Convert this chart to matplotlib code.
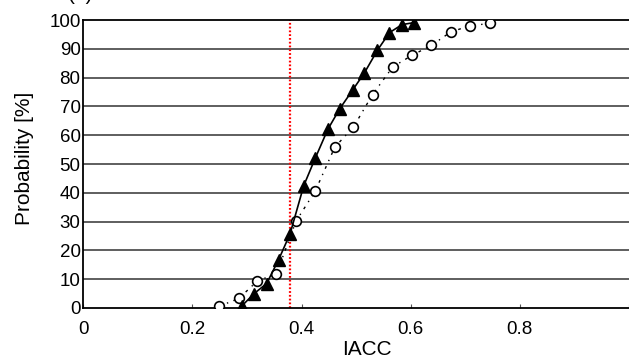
import matplotlib
matplotlib.use("Agg")
import matplotlib.pyplot as plt

plt.rcParams['font.family'] = ['Liberation Sans', 'DejaVu Sans']

# Data
tri_x = [0.291, 0.313, 0.336, 0.358, 0.379, 0.404, 0.425, 0.448, 0.470,
         0.494, 0.515, 0.539, 0.561, 0.584, 0.606]
tri_y = [0.8, 5.0, 8.5, 16.8, 25.8, 42.5, 52.0, 62.0, 69.2,
         75.8, 81.6, 89.5, 95.6, 98.4, 99.1]
circ_x = [0.249, 0.285, 0.319, 0.354, 0.390, 0.425, 0.461, 0.495, 0.530,
          0.567, 0.602, 0.638, 0.673, 0.708, 0.745]
circ_y = [0.6, 3.3, 9.4, 11.9, 30.2, 40.6, 55.9, 62.8, 74.1,
          83.7, 87.7, 91.2, 95.8, 98.0, 98.8]
threshold = 0.378
x_ticks = [0, 0.2, 0.4, 0.6, 0.8, 1.0]
x_ticklabels = ['0', '0.2', '0.4', '0.6', '0.8', '']
y_ticks = list(range(0, 101, 10))

W, H = 629, 362
fig = plt.figure(figsize=(W / 100, H / 100), dpi=100)
ax = fig.add_axes([83.3 / W, 1 - 308 / H, (W - 83.3) / W, 288 / H])

ax.set_xlim(0, 1.0)
ax.set_ylim(0, 100)

for y in y_ticks[1:-1]:
    ax.axhline(y, color='#333333', lw=1.1, zorder=1)

ax.axvline(threshold, color='#ff0000', lw=1.6, ls=(0, (0.8, 0.9)), zorder=2)

ax.plot(circ_x, circ_y, color='black', lw=1.0, ls=(0, (2, 4, 1, 4)),
        marker='o', ms=7, mfc='white', mec='black', mew=1.2, zorder=3)
ax.plot(tri_x, tri_y, color='black', lw=1.2, ls='-',
        marker='^', ms=8, mfc='black', mec='black', zorder=4)

ax.set_xticks(x_ticks)
ax.set_xticklabels(x_ticklabels)
ax.set_yticks(y_ticks)
ax.tick_params(axis='x', direction='in', length=3, width=0.8, color='#555555',
               labelsize=13.5, pad=9)
ax.tick_params(axis='y', length=0, labelsize=13.5, pad=2)

for s in ['left', 'bottom', 'top']:
    ax.spines[s].set_color('black')
    ax.spines[s].set_linewidth(1.3)
ax.spines['right'].set_visible(False)

ax.set_ylabel('Probability [%]', fontsize=15)
ax.yaxis.set_label_coords(-0.091, 0.52)
ax.set_xlabel('IACC', fontsize=15)
ax.xaxis.set_label_coords(0.52, -0.11)

fig.text(68 / W, 1.0, '(a)', fontsize=15, va='baseline', ha='left')

fig.savefig('out.png', dpi=100)
